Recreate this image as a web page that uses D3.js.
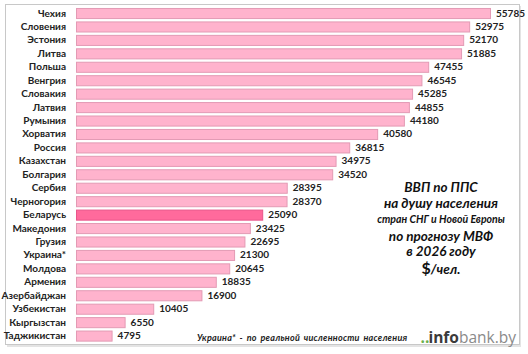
<!DOCTYPE html>
<html><head><meta charset="utf-8">
<script src="https://cdn.jsdelivr.net/npm/d3@7"></script>
<style>body{margin:0;background:#fff}svg{display:block}</style>
</head><body>
<svg id="c" width="528" height="354"></svg>
<script>
const countries = ["Чехия","Словения","Эстония","Литва","Польша","Венгрия","Словакия","Латвия","Румыния","Хорватия","Россия","Казахстан","Болгария","Сербия","Черногория","Беларусь","Македония","Грузия","Украина*","Молдова","Армения","Азербайджан","Узбекистан","Кыргызстан","Таджикистан"];
const values = [55785,52975,52170,51885,47455,46545,45285,44855,44180,40580,36815,34975,34520,28395,28370,25090,23425,22695,21300,20645,18835,16900,10405,6550,4795];
const highlight = "Беларусь";
const titleLines = ["ВВП по ППС","на душу населения","стран СНГ и Новой Европы","по прогнозу МВФ","в 2026 году","$/чел."];
const footnote = "Украина* - по реальной численности населения";

const svg = d3.select("#c");
const font = "Lato, 'Noto Sans', sans-serif";

// frame
svg.append("rect").attr("x",7).attr("y",6).attr("width",514).attr("height",341).attr("fill","#e4e4e4");
svg.append("rect").attr("x",5.5).attr("y",4.5).attr("width",514).attr("height",340).attr("fill","#fff").attr("stroke","#c8c8c8");

const x = d3.scaleLinear().domain([0,55785]).range([76,490]);
const y = d3.scaleBand().domain(countries).range([6.3,342.3]).paddingInner(0.25).paddingOuter(0.125);

const rows = svg.append("g").selectAll("g").data(countries).join("g");
rows.append("rect")
  .attr("x",x(0)+0.5)
  .attr("y",d=>y(d)+0.5)
  .attr("width",(d,i)=>x(values[i])-x(0))
  .attr("height",y.bandwidth())
  .attr("fill",d=>d===highlight?"#ff6a9c":"#ffb3cd")
  .attr("stroke",d=>d===highlight?"#e8558a":"#e39ab4")
  .attr("stroke-width",1);
rows.append("text")
  .attr("x",66).attr("y",d=>y(d)+y.bandwidth()/2)
  .attr("dy","0.35em").attr("text-anchor","end")
  .attr("font-family",font).attr("font-weight","bold").attr("font-size",10)
  .attr("fill","#222").text(d=>d);
rows.append("text")
  .attr("x",(d,i)=>x(values[i])+6).attr("y",d=>y(d)+y.bandwidth()/2)
  .attr("dy","0.35em")
  .attr("font-family",font).attr("font-weight","bold").attr("font-size",10)
  .attr("fill","#222").text((d,i)=>values[i]);

// title
const tY = [187,203,219,236,251,269];
const tS = [13.5,13.5,10.5,13.5,13.5,13.5];
svg.append("g").selectAll("text").data(titleLines).join("text")
  .attr("x",441).attr("y",(d,i)=>tY[i]).attr("dy","0.35em")
  .attr("text-anchor","middle")
  .attr("font-family",font).attr("font-style","italic").attr("font-weight","bold")
  .attr("font-size",(d,i)=>tS[i]).attr("fill","#111")
  .each(function(d,i){
    const t=d3.select(this);
    if(i===5){
      t.append("tspan").attr("font-size",16).attr("font-style","normal").text("$");
      t.append("tspan").text("/чел.");
    } else t.text(d);
  });

// footnote
svg.append("text").attr("x",197).attr("y",338).attr("dy","0.35em")
  .attr("font-family",font).attr("font-style","italic").attr("font-weight","bold")
  .attr("font-size",9).attr("fill","#222").attr("letter-spacing",0.25).attr("word-spacing",1.5).text(footnote);

// logo
const logo = svg.append("text").attr("x",516).attr("y",338).attr("dy","0.35em")
  .attr("text-anchor","end").attr("font-family","'Open Sans', sans-serif").attr("font-size",15.5);
logo.append("tspan").attr("fill","#6ab04c").attr("font-weight","bold").text("..");
logo.append("tspan").attr("fill","#3a3a3a").attr("font-weight","bold").attr("dx",-1).text("info");
logo.append("tspan").attr("fill","#8a8a8a").text("bank.by");
</script>
</body></html>
